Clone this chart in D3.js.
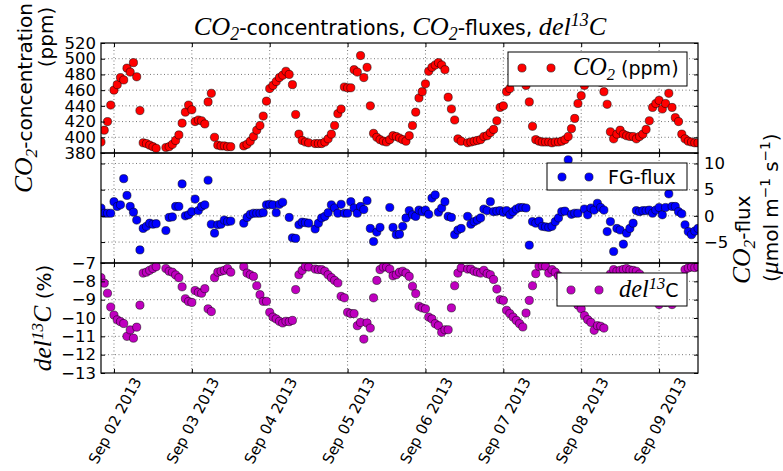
<!DOCTYPE html>
<html lang="en">
<head>
<meta charset="UTF-8">
<script src="https://cdnjs.cloudflare.com/ajax/libs/d3/7.8.5/d3.min.js"></script>
<title>CO2 concentrations, fluxes, del13C</title>
<style>
body { margin: 0; background: #fff; }
text { font-family: "DejaVu Sans", sans-serif; fill: #000; }
.math { font-family: "Liberation Serif", "DejaVu Serif", serif; font-style: italic; }
.grid line { stroke: #555; stroke-width: 0.8; stroke-dasharray: 1,2.5; }
.axis text { font-size: 16.5px; font-family: "DejaVu Sans", sans-serif; }
.axis line { stroke: #000; }
</style>
</head>
<body>
<script>

// hourly samples, first one at Sep 01 2013 20:00
var startTime = new Date(2013, 8, 1, 20);

var co2 = [
  394, 409, 420, 441,
  460, 467, 476, 473, 488, 483, 495, 477, 434, 393, 392, 390, 388, 386, null, null, 387, 388, 391, 396, 403, 418, 432, 441,
  435, 420, 422, 421, 417, 445, 456, 400, 390, 389, 389, 388, 388, null, null, null, 389, 391, 395, 401, 409, 415, 427, 446,
  462, 466, 471, 476, 479, 484, 480, 467, 429, 404, 396, 394, 393, null, 392, 392, 392, 394, 398, 404, 415, 430, 436, 464,
  463, 463, 486, 483, 504, 476, 489, 440, 405, 400, 397, 395, 394, 397, 402, 401, 399, 397, 395, 402, 415, 432, 450, 458,
  468, 484, 489, 492, 495, 492, 486, 451, 436, 422, 398, 395, null, 393, 394, 395, 396, 397, 401, 402, 406, 410, 421, 438,
  440, 458, 462, 476, 486, 482, 473, 466, 445, 414, 397, 395, 394, 394, 394, 393, 394, 394, 395, 397, 401, 411, 424, 443,
  453, 466, 476, 484, 488, 480, 470, 458, 442, 407, 398, 404, 409, 404, 402, 401, 401, 398, 401, 404, 410, 421, 438, 443,
  447, 436, 443, 456, 438, 425, 420, 404, 398, 395, 394, 393, 393
];

var flux = [
  1.5, 0.5, 0.5, 0.5,
  2.7, 1.8, 2.1, 7.1, 3.9, 1.8, 0.7, -0.8, -6.5, -2.4, -2.0, -1.4, -1.6, -1.5, null, null, -2.8, -0.3, -0.2, 1.8, 1.8, 6.1, 0.0, 0.2,
  0.8, 3.2, 1.0, 1.8, 2.1, 6.8, -1.6, -3.3, -1.7, -1.6, -0.8, -1.1, -1.0, null, null, null, -1.4, -0.3, 0.3, 0.5, 0.5, 0.5, 0.6, 2.1,
  2.2, 2.1, 0.6, 2.2, 2.6, null, -0.3, -4.2, -4.3, -1.7, -1.2, -1.3, -1.4, null, -2.5, -1.4, -0.4, -0.1, 0.6, 2.1, 1.5, 0.5, 2.2, 0.5,
  0.5, 2.7, 1.5, 0.5, 1.8, 1.2, 2.9, -2.4, -4.9, -3.1, -2.2, null, null, 1.6, -2.2, -3.6, -3.5, -2.0, -0.4, 1.0, 0.2, -0.1, 1.1, 0.8,
  1.1, 0.3, 3.4, 4.0, 0.7, 1.5, 2.7, -0.1, -0.3, -3.6, -2.7, -2.4, null, -0.1, -1.6, -1.1, -0.8, -0.4, 1.3, 1.0, 2.7, 0.8, 0.9, 1.0,
  0.7, 1.0, 0.2, 0.8, 1.3, 1.6, 1.6, 1.5, -5.6, -1.1, -1.4, -1.0, -2.0, -2.1, -2.2, -2.0, -1.1, -0.4, 0.8, 0.9, 10.7, 0.3, 0.5, 0.5,
  null, 1.3, 0.2, 1.5, 1.1, 2.4, 1.6, 1.1, -3.0, -1.1, -6.8, -2.4, -2.7, -5.4, -3.3, -2.4, -1.4, 1.0, 0.8, 1.0, 1.0, 1.1, 0.5, 1.1,
  1.6, 0.2, 1.6, 4.2, 1.8, 1.8, 0.8, 0.4, -1.7, -3.0, -3.6, -2.9, -2.4
];

var del13c = [
  -7.8, -8.1, -8.65, -9.4,
  -9.84, -10.1, -10.2, -10.3, -11.0, -10.65, -11.1, -10.5, -9.3, -7.55, -7.5, -7.4, -7.3, -7.2, null, null, -7.3, -7.45, -7.5, -7.65, -7.8, -8.3, -8.95, -9.1,
  -9.15, -8.5, -8.6, -8.65, -8.4, -9.5, -9.65, -7.8, -7.5, -7.45, -7.4, -7.3, -7.5, null, null, null, -7.2, -7.55, -7.64, -7.73, -8.24, -8.73, -9.09, -9.09,
  -9.69, -9.95, -10.05, -10.18, -10.27, -10.18, -10.2, -10.13, -8.45, -7.64, -7.4, -7.18, -7.22, null, -7.33, -7.36, -7.36, -7.45, -7.64, -7.8, -7.95, -8.09, -8.82, -8.9,
  -9.69, -9.76, -9.76, -10.42, -10.24, -11.15, -10.27, -10.55, -8.9, -7.95, -7.36, -7.22, -7.22, -7.33, -7.7, -7.64, -7.5, -7.45, -7.55, -7.73, -8.27, -8.67, -9.36, -9.45,
  -9.5, -9.95, -10.05, -10.31, -10.42, -10.78, -10.64, -10.64, -9.45, -8.24, -7.55, -7.27, null, -7.33, -7.33, -7.45, -7.5, -7.55, -7.4, -7.58, -7.64, -7.9, -8.42, -9.0,
  -9.04, -9.58, -9.76, -9.95, -10.13, -10.31, -10.49, -9.73, -9.04, -8.24, -7.58, -7.18, -7.15, -7.18, -7.55, -7.36, -7.5, -7.7, -7.9, -8.2, -8.5, -8.8, -9.1, -9.3,
  -9.5, -9.87, -10.09, -10.24, -10.67, -10.42, -10.45, -10.55, -9.0, -7.6, -7.36, -7.45, -7.4, -7.35, -7.3, -7.38, -7.4, -7.45, -7.6, -7.8, -8.1, -8.5, -8.8, -9.0,
  -9.27, -9.1, -9.15, -9.0, -9.27, -8.7, -8.3, -7.8, -7.36, -7.27, -7.22, -7.25, -7.2
];

var dayTicks = d3.timeDay.range(new Date(2013, 8, 2), new Date(2013, 8, 10));
var co2Ticks = [380, 400, 420, 440, 460, 480, 500, 520];
var fluxTicks = [-5, 0, 5, 10];
var delTicks = [-13, -12, -11, -10, -9, -8, -7];

var times = co2.map(function(d, i) { return d3.timeHour.offset(startTime, i); });

var width = 783, height = 471;
var left = 101, right = 698, ph = 110;

var svg = d3.select("body").append("svg")
    .attr("width", width)
    .attr("height", height);

var x = d3.scaleTime()
    .domain([times[0], times[times.length - 1]])
    .range([left, right]);

// text with mathtext-like pieces: {t, m: italic serif, sub, sup}
function rich(sel, parts, size) {
  var t = sel.append("text").style("font-size", size + "px");
  var shift = 0;
  parts.forEach(function(p) {
    var s = t.append("tspan").text(p.t);
    if (p.m) s.attr("class", "math");
    var target = p.sub ? 0.25 : p.sup ? -0.42 : 0;
    var fs = (p.sub || p.sup) ? 0.68 : 1;
    s.style("font-size", (size * fs * (p.m ? 1.28 : 1)) + "px");
    if (target !== shift) { s.attr("dy", (target - shift) * size); shift = target; }
  });
  return t;
}

var panels = [
  {vals: co2, dom: [380, 520], top: 43, ticks: co2Ticks, color: "#ff0000", right: false},
  {vals: flux, dom: [-9, 12], top: 153, ticks: fluxTicks, color: "#0000ff", right: true},
  {vals: del13c, dom: [-13, -7], top: 263, ticks: delTicks, color: "#bf00bf", right: false}
];

panels.forEach(function(p, k) {
  var y = d3.scaleLinear().domain(p.dom).range([p.top + ph, p.top]);
  var g = svg.append("g");

  g.append("clipPath").attr("id", "clip" + k)
    .append("rect").attr("x", left).attr("y", p.top).attr("width", right - left).attr("height", ph);

  // grid
  var grid = g.append("g").attr("class", "grid");
  grid.selectAll(".gx").data(dayTicks).enter().append("line")
      .attr("x1", function(d) { return x(d); }).attr("x2", function(d) { return x(d); })
      .attr("y1", p.top).attr("y2", p.top + ph);
  grid.selectAll(".gy").data(p.ticks.filter(function(v) { return v > p.dom[0] && v < p.dom[1]; }))
    .enter().append("line")
      .attr("x1", left).attr("x2", right)
      .attr("y1", function(d) { return y(d); }).attr("y2", function(d) { return y(d); });

  // points
  var pts = times.map(function(t, i) { return {t: t, v: p.vals[i]}; })
      .filter(function(d) { return d.v != null; });
  g.append("g").attr("clip-path", "url(#clip" + k + ")")
    .selectAll("circle").data(pts).enter().append("circle")
      .attr("cx", function(d) { return x(d.t); })
      .attr("cy", function(d) { return y(d.v); })
      .attr("r", 4.1)
      .attr("fill", p.color)
      .attr("stroke", "#000")
      .attr("stroke-width", 0.5);

  // y axes, ticks pointing inwards
  var axL = d3.axisLeft(y).tickValues(p.ticks).tickFormat(d3.format("d"))
      .tickSizeInner(-4).tickSizeOuter(0).tickPadding(5);
  var axR = d3.axisRight(y).tickValues(p.ticks).tickFormat(d3.format("d"))
      .tickSizeInner(-4).tickSizeOuter(0).tickPadding(6);
  if (p.right) axL.tickFormat(""); else axR.tickFormat("");
  g.append("g").attr("class", "axis").attr("transform", "translate(" + left + ",0)").call(axL)
    .attr("font-size", null).attr("font-family", null).select(".domain").remove();
  g.append("g").attr("class", "axis").attr("transform", "translate(" + right + ",0)").call(axR)
    .attr("font-size", null).attr("font-family", null).select(".domain").remove();

  // x ticks top and bottom
  g.append("g").attr("class", "axis").attr("transform", "translate(0," + (p.top + ph) + ")")
    .call(d3.axisBottom(x).tickValues(dayTicks).tickSizeInner(-4).tickSizeOuter(0).tickFormat(""))
    .select(".domain").remove();
  g.append("g").attr("class", "axis").attr("transform", "translate(0," + p.top + ")")
    .call(d3.axisTop(x).tickValues(dayTicks).tickSizeInner(-4).tickSizeOuter(0).tickFormat(""))
    .select(".domain").remove();

  g.append("rect")
      .attr("x", left).attr("y", p.top).attr("width", right - left).attr("height", ph)
      .attr("fill", "none").attr("stroke", "#000").attr("stroke-width", 1.2);
});

// date labels
var fmt = d3.timeFormat("%b %d %Y");
svg.append("g").selectAll("text").data(dayTicks).enter().append("text")
    .attr("transform", function(d) { return "translate(" + (x(d) + 28) + ",381) rotate(-62)"; })
    .attr("text-anchor", "end")
    .style("font-size", "15px")
    .text(function(d) { return fmt(d); });

// title
rich(svg, [
  {t: "CO", m: 1}, {t: "2", m: 1, sub: 1}, {t: "-concentrations, "},
  {t: "CO", m: 1}, {t: "2", m: 1, sub: 1}, {t: "-fluxes, "},
  {t: "del", m: 1}, {t: "13", m: 1, sup: 1}, {t: "C", m: 1}
], 20.5).attr("x", 400).attr("y", 35).attr("text-anchor", "middle");

// y labels
rich(svg.append("g").attr("transform", "translate(32,98) rotate(-90)"),
  [{t: "CO", m: 1}, {t: "2", m: 1, sub: 1}, {t: "-concentration"}], 20)
  .attr("text-anchor", "middle");
rich(svg.append("g").attr("transform", "translate(53,37) rotate(-90)"),
  [{t: "(ppm)"}], 20).attr("text-anchor", "middle");
rich(svg.append("g").attr("transform", "translate(51,318) rotate(-90)"),
  [{t: "del", m: 1}, {t: "13", m: 1, sup: 1}, {t: "C", m: 1}, {t: " (%)"}], 20)
  .attr("text-anchor", "middle");
rich(svg.append("g").attr("transform", "translate(750,284) rotate(-90)"),
  [{t: "CO", m: 1}, {t: "2", m: 1, sub: 1}, {t: "-flux"}], 20);
rich(svg.append("g").attr("transform", "translate(778,282) rotate(-90)"),
  [{t: "("}, {t: "\u03bc", m: 1}, {t: "mol m"}, {t: "\u22121", sup: 1}, {t: " s"}, {t: "\u22121", sup: 1}, {t: ")"}], 20);

// legends
function legend(bx, by, bw, bh, color, m1, m2, my, tx, ty, parts) {
  var g = svg.append("g");
  g.append("rect").attr("x", bx).attr("y", by).attr("width", bw).attr("height", bh)
    .attr("fill", "#fff").attr("stroke", "#000").attr("stroke-width", 1);
  g.selectAll("circle").data([m1, m2]).enter().append("circle")
    .attr("cx", function(d) { return d; }).attr("cy", my).attr("r", 4.1)
    .attr("fill", color).attr("stroke", "#000").attr("stroke-width", 0.5);
  rich(g, parts, 19).attr("x", tx).attr("y", ty);
}
legend(508, 52, 179, 34, "#ff0000", 522, 551, 68, 573, 75,
  [{t: "CO", m: 1}, {t: "2", m: 1, sub: 1}, {t: " (ppm)"}]);
legend(547, 163, 140, 27, "#0000ff", 562, 589, 177, 608, 184,
  [{t: "FG-flux"}]);
legend(557, 273, 130, 33, "#bf00bf", 571, 599, 290, 619, 297,
  [{t: "del", m: 1}, {t: "13", m: 1, sup: 1}, {t: "C"}]);

</script>
</body>
</html>
